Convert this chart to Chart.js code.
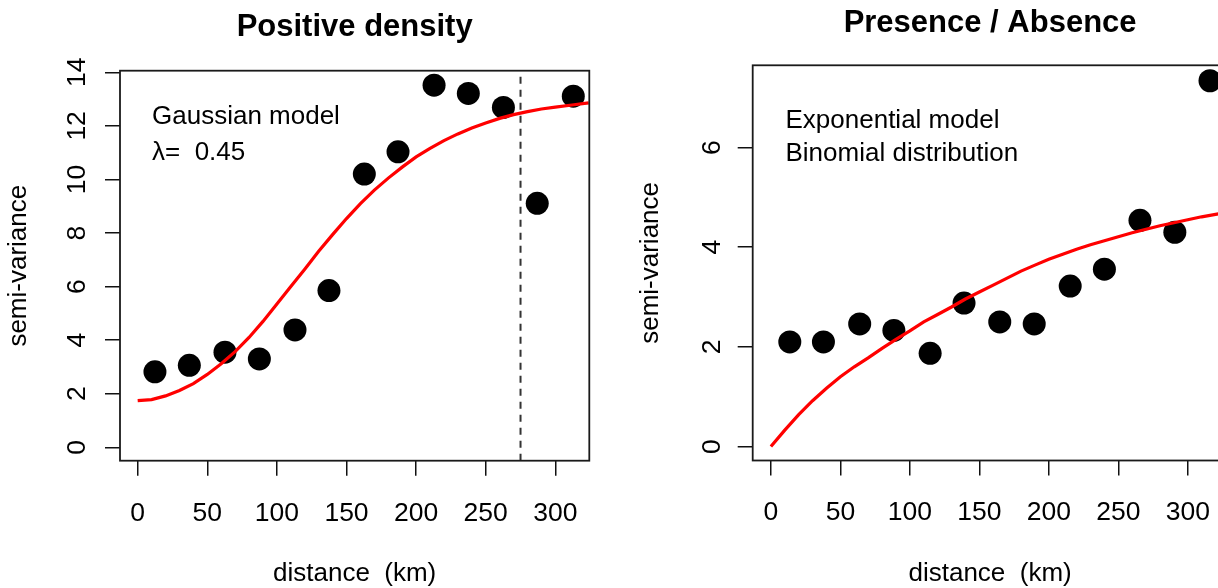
<!DOCTYPE html>
<html>
<head>
<meta charset="utf-8">
<script src="https://cdn.jsdelivr.net/npm/chart.js@4"></script>
<style>
  html, body { margin: 0; padding: 0; background: #fff; overflow: hidden; }
  body { width: 1218px; height: 588px; position: relative; }
  canvas { position: absolute; top: 0; }
  #density { left: 0; }
  #presence { left: 609px; }
</style>
</head>
<body>
<canvas id="density" width="609" height="588"></canvas>
<canvas id="presence" width="630" height="588"></canvas>
<script>
// positive density: empirical semi-variance per distance class
const densityDist = [12.4, 37.1, 62.7, 87.4, 113, 137.4, 162.8, 187, 212.9, 237.5, 262.7, 287, 312.9];
const densitySemivar = [2.82, 3.06, 3.55, 3.30, 4.38, 5.85, 10.20, 11.03, 13.52, 13.21, 12.69, 9.11, 13.11];
// fitted gaussian model
const gaussDist = [0, 10, 20, 30, 40, 50, 60, 70, 80, 90, 100, 110, 120, 130, 140, 150, 160, 170, 180, 190, 200, 210, 220, 230, 240, 250, 260, 270, 280, 290, 300, 312, 324];
const gaussFit = [1.74, 1.78, 1.92, 2.12, 2.38, 2.72, 3.12, 3.57, 4.10, 4.70, 5.35, 6.00, 6.65, 7.32, 7.94, 8.54, 9.10, 9.60, 10.05, 10.46, 10.84, 11.16, 11.45, 11.70, 11.92, 12.11, 12.28, 12.42, 12.53, 12.63, 12.70, 12.78, 12.86];
const rangeKm = 275;

// presence / absence
const presenceDist = [13.6, 37.8, 63.9, 88.5, 114.6, 139, 164.7, 189.5, 215.4, 240, 265.6, 290.7, 316];
const presenceSemivar = [2.10, 2.10, 2.46, 2.33, 1.87, 2.88, 2.50, 2.46, 3.22, 3.56, 4.54, 4.30, 7.34];
// fitted exponential model
const expDist = [0, 10, 20, 30, 40, 50, 60, 70, 80, 90, 100, 110, 120, 130, 140, 150, 160, 170, 180, 190, 200, 210, 220, 230, 240, 250, 260, 270, 280, 290, 300, 310, 320, 328];
const expFit = [0, 0.33, 0.64, 0.92, 1.17, 1.40, 1.60, 1.78, 1.97, 2.15, 2.32, 2.50, 2.65, 2.80, 2.96, 3.10, 3.24, 3.38, 3.52, 3.64, 3.76, 3.86, 3.96, 4.05, 4.13, 4.21, 4.29, 4.36, 4.43, 4.49, 4.55, 4.61, 4.66, 4.70];

const distTicks = [0, 50, 100, 150, 200, 250, 300];
const densityTicks = [0, 2, 4, 6, 8, 10, 12, 14];
const presenceTicks = [0, 2, 4, 6];

Chart.defaults.font.family = "'Liberation Sans', Arial, sans-serif";
Chart.defaults.color = '#000';

const toXY = (xs, ys) => xs.map((x, i) => ({ x, y: ys[i] }));

const boxPlugin = {
  id: 'plotBox',
  afterDraw(chart) {
    const { ctx, chartArea: a } = chart;
    ctx.save();
    ctx.strokeStyle = '#1a1a1a';
    ctx.lineWidth = 1.8;
    ctx.strokeRect(a.left, a.top, a.right - a.left, a.bottom - a.top);
    ctx.restore();
  }
};

const rangePlugin = {
  id: 'rangeLine',
  beforeDatasetsDraw(chart) {
    const { ctx, chartArea: a, scales: { x } } = chart;
    const px = x.getPixelForValue(rangeKm);
    ctx.save();
    ctx.strokeStyle = '#333';
    ctx.lineWidth = 2;
    ctx.setLineDash([7, 6]);
    ctx.beginPath();
    ctx.moveTo(px, a.bottom);
    ctx.lineTo(px, a.top);
    ctx.stroke();
    ctx.restore();
  }
};

function notes(lines) {
  return {
    id: 'notes',
    afterDraw(chart) {
      const { ctx, chartArea: a } = chart;
      ctx.save();
      ctx.fillStyle = '#000';
      ctx.font = "26px 'Liberation Sans', Arial, sans-serif";
      ctx.textBaseline = 'alphabetic';
      lines.forEach(l => ctx.fillText(l.text, a.left + l.dx, a.top + l.dy));
      ctx.restore();
    }
  };
}

function variogram(id, c) {
  const grid = { drawOnChartArea: false, drawTicks: true, tickLength: 15, color: '#111', lineWidth: 1.5 };
  return new Chart(document.getElementById(id), {
    type: 'scatter',
    data: {
      datasets: [
        {
          data: toXY(c.fitX, c.fitY),
          showLine: true,
          borderColor: '#ff0000',
          borderWidth: 3.2,
          pointRadius: 0,
          tension: 0,
          order: 1
        },
        {
          data: toXY(c.pointX, c.pointY),
          pointRadius: 11.5,
          pointBackgroundColor: '#000',
          pointBorderWidth: 0,
          order: 2
        }
      ]
    },
    options: {
      responsive: false,
      animation: false,
      devicePixelRatio: 1,
      events: [],
      layout: { padding: { left: 0, top: 0, bottom: 0, right: c.padRight } },
      plugins: {
        legend: { display: false },
        tooltip: { enabled: false },
        title: {
          display: true,
          text: c.title,
          fullSize: false,
          font: { size: 31, weight: 'bold', lineHeight: 1.2 },
          padding: c.titlePad
        }
      },
      scales: {
        x: {
          type: 'linear',
          min: c.xMin,
          max: c.xMax,
          afterBuildTicks: s => { s.ticks = distTicks.map(v => ({ value: v })); },
          afterFit: s => { s.height = c.xHeight; s.paddingLeft = 0; s.paddingRight = 0; },
          border: { display: false },
          grid,
          ticks: { padding: c.xTickPad, autoSkip: false, maxRotation: 0, font: { size: 26.5, lineHeight: 1.2 } },
          title: { display: true, text: 'distance  (km)', font: { size: 26, lineHeight: 1 }, padding: { top: 0, bottom: 0.7 } }
        },
        y: {
          type: 'linear',
          min: c.yMin,
          max: c.yMax,
          afterBuildTicks: s => { s.ticks = c.yTicks.map(v => ({ value: v })); },
          afterFit: s => { s.width = c.yWidth; s.paddingTop = 0; s.paddingBottom = 0; },
          border: { display: false },
          grid,
          ticks: { padding: c.yTickPad, autoSkip: false, minRotation: 90, maxRotation: 90, crossAlign: 'center', font: { size: 26.5 } },
          title: { display: true, text: 'semi-variance', font: { size: 26, lineHeight: 1 }, padding: { top: c.yTitlePad, bottom: 0 } }
        }
      }
    },
    plugins: c.plugins
  });
}

variogram('density', {
  title: 'Positive density',
  titlePad: { top: 8.96, bottom: 24.54 },
  pointX: densityDist, pointY: densitySemivar,
  fitX: gaussDist, fitY: gaussFit,
  xMin: -12.7, xMax: 324.4, yMin: -0.5, yMax: 14.06,
  yTicks: densityTicks,
  yWidth: 120, xHeight: 127.3, padRight: 19.7,
  xTickPad: 22.5, yTickPad: 12.1, yTitlePad: 6,
  plugins: [rangePlugin, boxPlugin, notes([
    { text: 'Gaussian model', dx: 32, dy: 53.3 },
    { text: 'λ=  0.45', dx: 32, dy: 89.3 }
  ])]
});

variogram('presence', {
  title: 'Presence / Absence',
  titlePad: { top: 4.96, bottom: 23.14 },
  pointX: presenceDist, pointY: presenceSemivar,
  fitX: expDist, fitY: expFit,
  xMin: -13.1, xMax: 328.6, yMin: -0.28, yMax: 7.65,
  yTicks: presenceTicks,
  yWidth: 143.7, xHeight: 127.5, padRight: 10.1,
  xTickPad: 21.1, yTickPad: 17.9, yTitlePad: 28.5,
  plugins: [boxPlugin, notes([
    { text: 'Exponential model', dx: 32.8, dy: 63 },
    { text: 'Binomial distribution', dx: 32.8, dy: 95.7 }
  ])]
});
</script>
</body>
</html>
